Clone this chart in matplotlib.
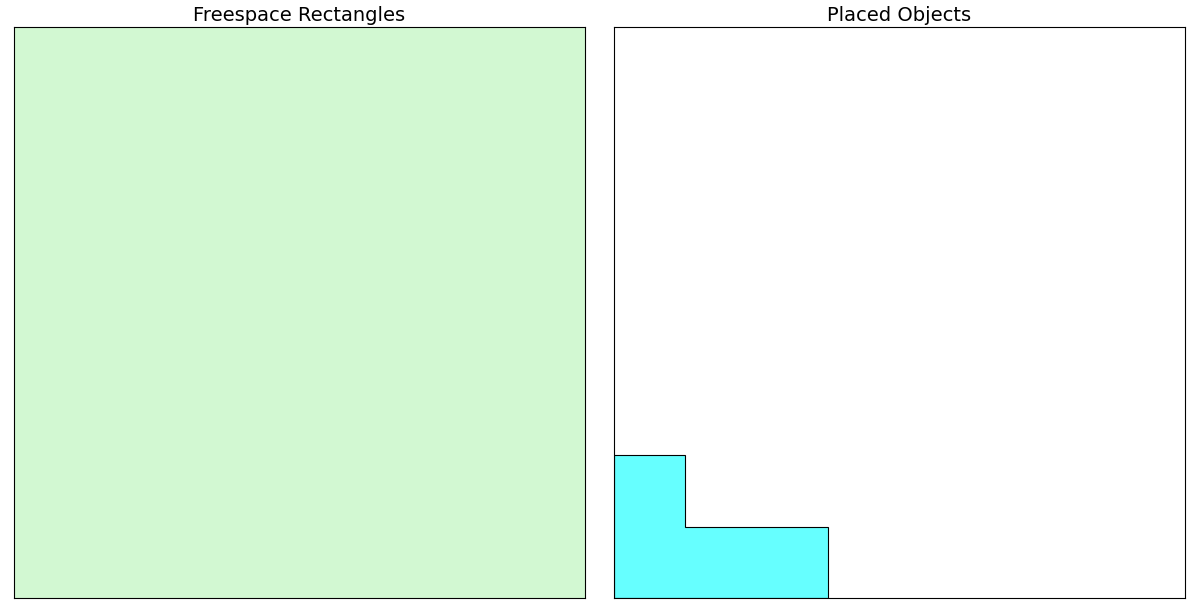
import matplotlib
matplotlib.use("Agg")
import matplotlib.pyplot as plt
from matplotlib.patches import Rectangle, Polygon

# container size and data
BIN_W = 8
BIN_H = 8
free_rects = [(0, 0, 8, 8)]  # x, y, w, h
placed_shape_x = [0, 3, 3, 1, 1, 0]
placed_shape_y = [0, 0, 1, 1, 2, 2]

fig = plt.figure(figsize=(12, 6.1), dpi=100)
ax1 = fig.add_axes([14 / 1200, 12 / 610, 571 / 1200, 571 / 610])
ax2 = fig.add_axes([614 / 1200, 12 / 610, 571 / 1200, 571 / 610])

for x, y, w, h in free_rects:
    ax1.add_patch(Rectangle((x, y), w, h, facecolor='lightgreen', alpha=0.4, edgecolor='none'))

ax2.add_patch(Polygon(list(zip(placed_shape_x, placed_shape_y)), closed=True,
                      facecolor='cyan', alpha=0.6, edgecolor='none'))
ax2.add_patch(Polygon(list(zip(placed_shape_x, placed_shape_y)), closed=True,
                      facecolor='none', edgecolor='black', linewidth=0.8))

for ax, title in [(ax1, "Freespace Rectangles"), (ax2, "Placed Objects")]:
    ax.set_xlim(0, BIN_W)
    ax.set_ylim(0, BIN_H)
    ax.set_xticks([])
    ax.set_yticks([])
    ax.set_title(title, fontsize=14, pad=4)

fig.savefig("out.png", dpi=100)
